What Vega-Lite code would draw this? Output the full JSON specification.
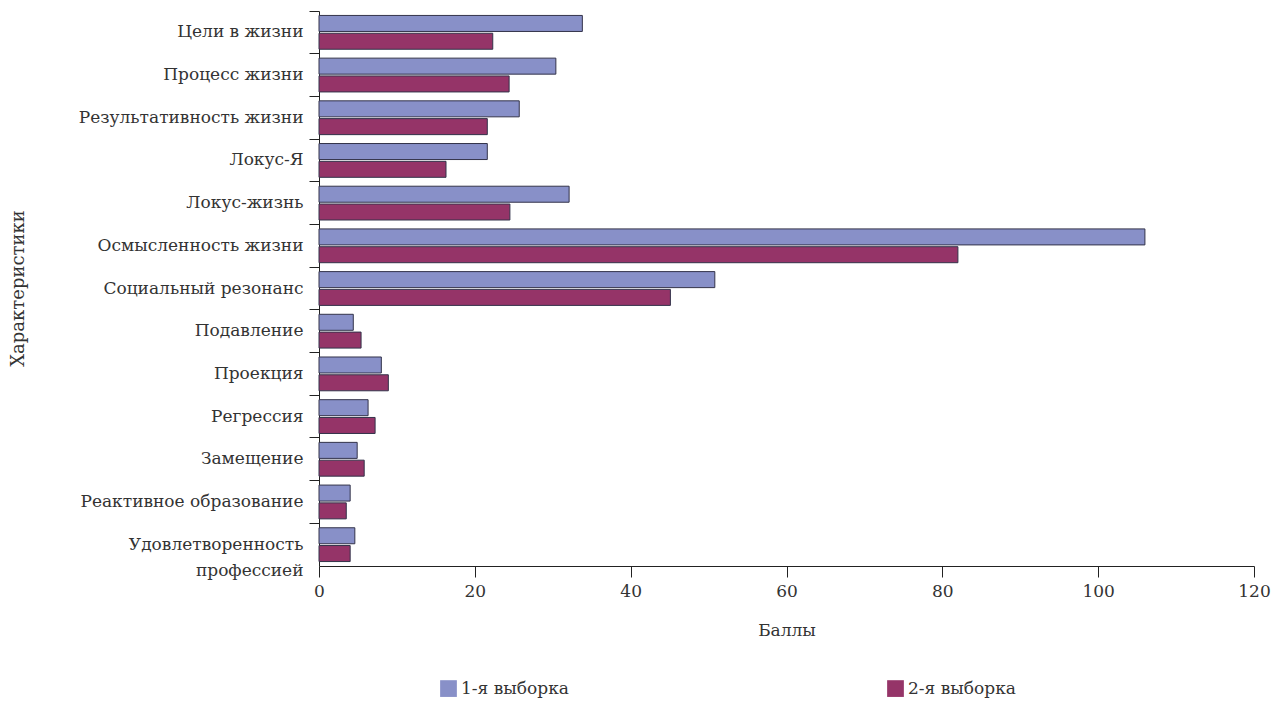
{
  "$schema": "https://vega.github.io/schema/vega-lite/v6.json",
  "autosize": {"type": "none"},
  "padding": {"left": 319, "top": 11, "right": 31, "bottom": 135},
  "width": 935,
  "height": 555,
  "background": "white",
  "config": {
    "view": {"stroke": null},
    "font": "DejaVu Serif",
    "axis": {"labelFont": "DejaVu Serif", "titleFont": "DejaVu Serif"},
    "legend": {"labelFont": "DejaVu Serif"}
  },
  "data": {
    "values": [
      {"cat": "Цели в жизни", "sample": "1-я выборка", "value": 33.8},
      {"cat": "Цели в жизни", "sample": "2-я выборка", "value": 22.3},
      {"cat": "Процесс жизни", "sample": "1-я выборка", "value": 30.4},
      {"cat": "Процесс жизни", "sample": "2-я выборка", "value": 24.4},
      {"cat": "Результативность жизни", "sample": "1-я выборка", "value": 25.7},
      {"cat": "Результативность жизни", "sample": "2-я выборка", "value": 21.6},
      {"cat": "Локус-Я", "sample": "1-я выборка", "value": 21.6},
      {"cat": "Локус-Я", "sample": "2-я выборка", "value": 16.3},
      {"cat": "Локус-жизнь", "sample": "1-я выборка", "value": 32.1},
      {"cat": "Локус-жизнь", "sample": "2-я выборка", "value": 24.5},
      {"cat": "Осмысленность жизни", "sample": "1-я выборка", "value": 106.0},
      {"cat": "Осмысленность жизни", "sample": "2-я выборка", "value": 82.0},
      {"cat": "Социальный резонанс", "sample": "1-я выборка", "value": 50.8},
      {"cat": "Социальный резонанс", "sample": "2-я выборка", "value": 45.1},
      {"cat": "Подавление", "sample": "1-я выборка", "value": 4.4},
      {"cat": "Подавление", "sample": "2-я выборка", "value": 5.4},
      {"cat": "Проекция", "sample": "1-я выборка", "value": 8.0},
      {"cat": "Проекция", "sample": "2-я выборка", "value": 8.9},
      {"cat": "Регрессия", "sample": "1-я выборка", "value": 6.3},
      {"cat": "Регрессия", "sample": "2-я выборка", "value": 7.2},
      {"cat": "Замещение", "sample": "1-я выборка", "value": 4.9},
      {"cat": "Замещение", "sample": "2-я выборка", "value": 5.8},
      {"cat": "Реактивное образование", "sample": "1-я выборка", "value": 4.0},
      {"cat": "Реактивное образование", "sample": "2-я выборка", "value": 3.5},
      {"cat": "Удовлетворенность профессией", "sample": "1-я выборка", "value": 4.6},
      {"cat": "Удовлетворенность профессией", "sample": "2-я выборка", "value": 4.0}
    ]
  },
  "mark": {"type": "bar", "stroke": "#33334a", "strokeWidth": 1},
  "encoding": {
    "y": {
      "field": "cat",
      "type": "nominal",
      "sort": null,
      "scale": {"paddingInner": 0, "paddingOuter": 0},
      "axis": {
        "title": "Характеристики",
        "titleFontSize": 18,
        "titleFontWeight": "normal",
        "titleColor": "#333333",
        "titleX": -301,
        "titleY": 277,
        "titleAngle": -90,
        "titleAlign": "center",
        "titleBaseline": "middle",
        "bandPosition": 0,
        "tickSize": 10,
        "tickColor": "#222222",
        "domainColor": "#222222",
        "labelFontSize": 17,
        "labelColor": "#333333",
        "labelPadding": 6,
        "labelLimit": 400,
        "labelLineHeight": 26,
        "labelExpr": "datum.label == 'Удовлетворенность профессией' ? ['Удовлетворенность', 'профессией'] : datum.label"
      }
    },
    "yOffset": {
      "field": "sample",
      "type": "nominal",
      "scale": {"paddingInner": 0.1, "paddingOuter": 0.25}
    },
    "x": {
      "field": "value",
      "type": "quantitative",
      "scale": {"domain": [0, 120], "nice": false},
      "axis": {
        "title": "Баллы",
        "values": [0, 20, 40, 60, 80, 100, 120],
        "grid": false,
        "labelFlush": false,
        "tickSize": 11,
        "tickColor": "#222222",
        "domainColor": "#222222",
        "labelFontSize": 17,
        "labelColor": "#333333",
        "labelPadding": 6,
        "titleFontSize": 17,
        "titleFontWeight": "normal",
        "titleColor": "#333333",
        "titleY": 64,
        "titleBaseline": "middle"
      }
    },
    "color": {
      "field": "sample",
      "type": "nominal",
      "scale": {"domain": ["1-я выборка", "2-я выборка"], "range": ["#8890c8", "#953468"]},
      "legend": {
        "title": null,
        "orient": "none",
        "legendX": 121,
        "legendY": 669,
        "direction": "horizontal",
        "columns": 2,
        "columnPadding": 318,
        "symbolType": "square",
        "symbolSize": 280,
        "symbolStrokeWidth": 0,
        "labelFontSize": 17,
        "labelColor": "#333333",
        "labelOffset": 4
      }
    }
  }
}
